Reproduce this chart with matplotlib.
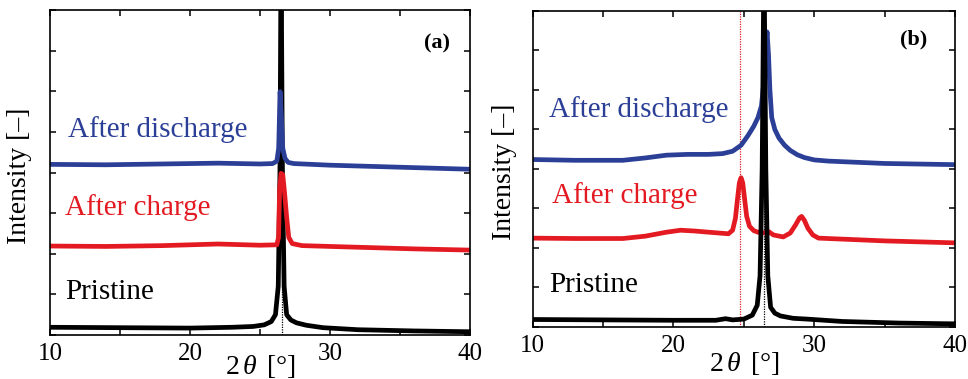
import matplotlib
matplotlib.use("Agg")
import matplotlib.pyplot as plt
from matplotlib.ticker import MultipleLocator

plt.rcParams['font.family'] = ['Liberation Serif', 'DejaVu Serif']
plt.rcParams['mathtext.fontset'] = 'custom'
plt.rcParams['mathtext.it'] = 'Liberation Serif:italic'
plt.rcParams['mathtext.rm'] = 'Liberation Serif'

BLUE = '#2b3f97'
RED = '#e31a22'

# ---- panel (a) values (2theta, offset intensity)
a_pristine_x = [10, 15, 20, 23, 24.5, 25.3, 25.8, 26.1, 26.3, 26.42, 26.5, 26.6, 26.72, 26.9, 27.2, 27.6, 28.3, 29.5, 32, 36, 40]
a_pristine_y = [0.19, 0.18, 0.17, 0.19, 0.21, 0.25, 0.33, 0.5, 1.2, 4.0, 9.5, 4.0, 1.2, 0.5, 0.37, 0.30, 0.24, 0.18, 0.13, 0.10, 0.08]
a_charge_x = [10, 14, 18, 22, 25, 26.2, 26.32, 26.4, 26.5, 26.62, 26.75, 26.9, 27.05, 27.3, 28, 32, 36, 40]
a_charge_y = [2.19, 2.18, 2.20, 2.24, 2.21, 2.22, 2.4, 3.6, 3.98, 3.95, 3.5, 2.9, 2.4, 2.25, 2.20, 2.16, 2.12, 2.09]
a_discharge_x = [10, 14, 18, 22, 25, 25.9, 26.2, 26.33, 26.43, 26.52, 26.62, 26.78, 27.0, 27.4, 30, 35, 40]
a_discharge_y = [4.20, 4.19, 4.21, 4.23, 4.21, 4.22, 4.28, 4.6, 5.99, 5.4, 4.6, 4.35, 4.25, 4.22, 4.18, 4.13, 4.08]
a_ref_lines = [26.55]

# ---- panel (b)
b_pristine_x = [10, 15, 20, 23, 23.7, 24.2, 25, 25.6, 25.95, 26.15, 26.3, 26.43, 26.56, 26.7, 26.9, 27.2, 27.6, 28.5, 29.5, 32, 36, 40]
b_pristine_y = [0.19, 0.18, 0.17, 0.17, 0.21, 0.18, 0.2, 0.3, 0.55, 1.3, 4.0, 9.5, 4.0, 1.3, 0.5, 0.35, 0.28, 0.22, 0.20, 0.14, 0.10, 0.08]
b_charge_x = [10, 13, 16.4, 18, 19.5, 20.5, 21.5, 22.5, 23.9, 24.2, 24.4, 24.55, 24.68, 24.8, 24.92, 25.05, 25.2, 25.4,
              25.7, 26.0, 26.4, 26.74, 27.1, 27.8, 28.3, 28.7, 28.95, 29.1, 29.3, 29.55, 29.9, 30.3, 35, 40]
b_charge_y = [2.25, 2.24, 2.24, 2.30, 2.40, 2.45, 2.43, 2.40, 2.36, 2.45, 2.75, 3.25, 3.65, 3.78, 3.65, 3.25, 2.8, 2.55,
              2.44, 2.40, 2.38, 2.42, 2.33, 2.28, 2.38, 2.6, 2.76, 2.8, 2.7, 2.5, 2.33, 2.25, 2.18, 2.13]
b_discharge_x = [10, 13, 16.4, 18, 19.5, 21, 22.5, 23.5, 24.2, 24.8, 25.3, 25.7, 26.0, 26.25, 26.42, 26.55, 26.65, 26.75,
                 26.85, 26.98, 27.2, 27.5, 27.9, 28.3, 28.8, 29.3, 30, 31, 35, 40]
b_discharge_y = [4.24, 4.22, 4.22, 4.28, 4.35, 4.37, 4.37, 4.39, 4.45, 4.6, 4.85, 5.08, 5.3, 5.6, 6.2, 7.1, 7.47, 6.9,
                 6.0, 5.3, 5.0, 4.78, 4.6, 4.47, 4.36, 4.29, 4.23, 4.20, 4.14, 4.11]
b_ref_lines = [26.4, 24.73]

labels = ['Pristine', 'After charge', 'After discharge']
colors = ['black', RED, BLUE]

fig = plt.figure(figsize=(9.68, 3.79), dpi=100)
ax_a = fig.add_axes([0.0517, 0.1161, 0.4339, 0.8575])
ax_b = fig.add_axes([0.5503, 0.1372, 0.4363, 0.8338])

panels = [
    (ax_a, '(a)', [(a_pristine_x, a_pristine_y), (a_charge_x, a_charge_y), (a_discharge_x, a_discharge_y)],
     a_ref_lines, ['black'], [(11.1, 0.89), (11.1, 2.95), (11.3, 4.88)], (37.67, 7.18), -0.055, -0.043, 2),
    (ax_b, '(b)', [(b_pristine_x, b_pristine_y), (b_charge_x, b_charge_y), (b_discharge_x, b_discharge_y)],
     b_ref_lines, ['black', RED], [(11.18, 0.89), (11.35, 3.14), (11.18, 5.32)], (37.09, 7.27), -0.072, -0.037, 3),
]

for ax, tag, series, refs, ref_cols, label_pos, tag_pos, xlab_y, ylab_x, black_z in panels:
    for xv, c in zip(refs, ref_cols):
        ax.axvline(xv, color=c, lw=0.9, ls=(0, (1, 1)), zorder=1)
    for (xs, ys), c in zip(series, colors):
        z = black_z if c == 'black' else 2
        ax.plot(xs, ys, color=c, lw=3.4, solid_joinstyle='round', solid_capstyle='butt', zorder=z)
    for (tx, ty), lab, c in zip(label_pos, labels, colors):
        ax.text(tx, ty, lab, color=c, fontsize=21, ha='left', va='baseline')
    ax.text(tag_pos[0], tag_pos[1], tag, fontsize=16, fontweight='bold', ha='center', va='center')

    ax.set_xlim(10, 40)
    ax.set_ylim(0, 8)
    ax.xaxis.set_major_locator(MultipleLocator(10))
    ax.xaxis.set_minor_locator(MultipleLocator(5))
    ax.yaxis.set_major_locator(MultipleLocator(1))
    ax.tick_params(which='both', direction='in', top=True, right=True, length=4, width=1.1)
    ax.tick_params(axis='x', labelsize=18, pad=6)
    ax.tick_params(axis='y', labelleft=False)
    for s in ax.spines.values():
        s.set_linewidth(1.2)
    ax.set_ylabel('Intensity [–]', fontsize=20)
    ax.yaxis.set_label_coords(ylab_x, 0.49)
    ax.set_xlabel(r'2$\,\mathit{\theta}\,$ [°]', fontsize=20)
    ax.xaxis.set_label_coords(0.5, xlab_y)

fig.savefig('out.png', dpi=100)
